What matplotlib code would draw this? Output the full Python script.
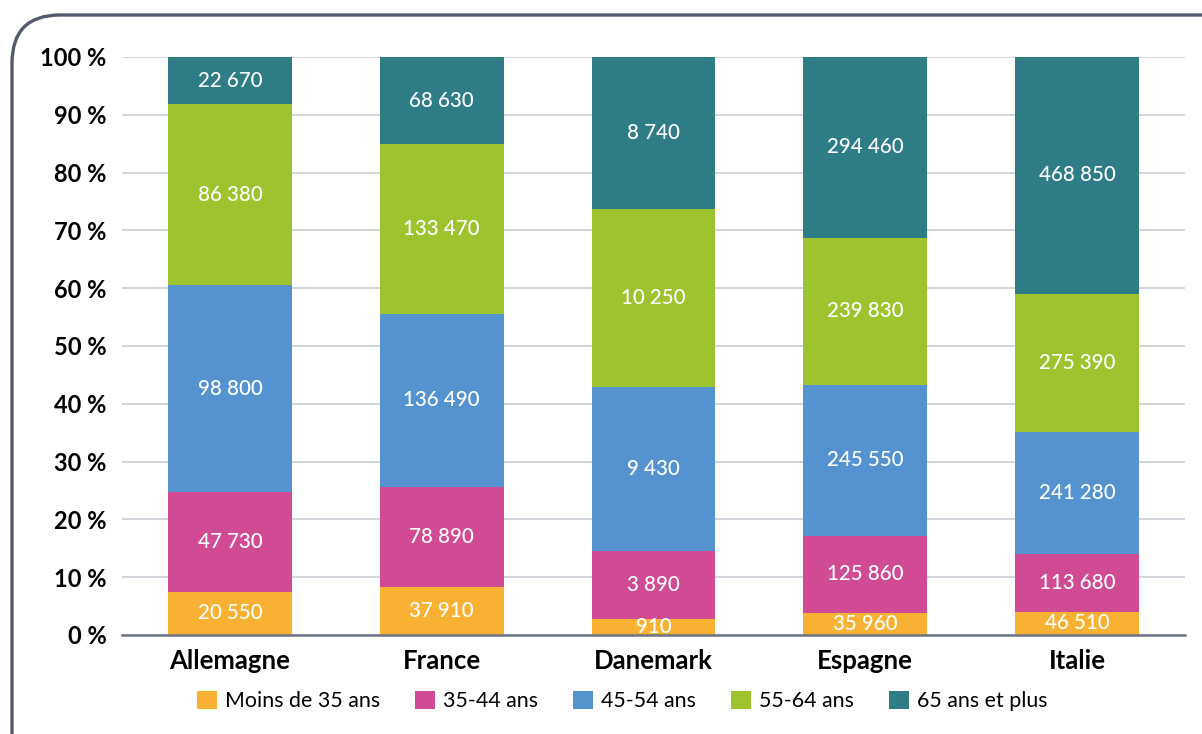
import matplotlib.pyplot as plt
import numpy as np
from matplotlib.patches import FancyBboxPatch

plt.rcParams['font.family'] = ['Lato', 'DejaVu Sans']

countries = ["Allemagne", "France", "Danemark", "Espagne", "Italie"]
groups = ["Moins de 35 ans", "35-44 ans", "45-54 ans", "55-64 ans", "65 ans et plus"]
moins_35 = [20550, 37910, 910, 35960, 46510]
ans_35_44 = [47730, 78890, 3890, 125860, 113680]
ans_45_54 = [98800, 136490, 9430, 245550, 241280]
ans_55_64 = [86380, 133470, 10250, 239830, 275390]
ans_65_plus = [22670, 68630, 8740, 294460, 468850]
colors = ["#f8b133", "#d04b94", "#5592d0", "#9dc32f", "#2e7c85"]

series = [moins_35, ans_35_44, ans_45_54, ans_55_64, ans_65_plus]
values = np.array(series, dtype=float)
totals = values.sum(axis=0)
pct = values / totals * 100

fig = plt.figure(figsize=(12.02, 7.34), dpi=100)
ax = fig.add_axes([122 / 1202, 1 - 635 / 734, (1185 - 122) / 1202, (635 - 57) / 734])

# rounded frame, cut off at right and bottom
frame = FancyBboxPatch((12 / 1202, -0.1), 1.1, 1 - 15 / 734 + 0.1,
                       boxstyle="round,pad=0,rounding_size=0.04",
                       transform=fig.transFigure, fill=False,
                       edgecolor="#525a6b", linewidth=2.4,
                       mutation_aspect=1202 / 734)
fig.patches.append(frame)

x = np.arange(len(countries))
bottom = np.zeros(len(countries))
for i, name in enumerate(groups):
    ax.bar(x, pct[i], 0.585, bottom=bottom, color=colors[i], label=name, zorder=2)
    for j in range(len(countries)):
        label = f"{int(values[i, j]):,}".replace(",", " ")
        ax.text(x[j], bottom[j] + pct[i, j] / 2, label, ha="center", va="center",
                color="white", fontsize=14.8, fontweight="medium", zorder=3)
    bottom += pct[i]

ax.set_xlim(-0.51, len(countries) - 0.49)
ax.set_ylim(0, 100)
ax.set_yticks(range(0, 101, 10))
ax.set_yticklabels([f"{t} %" for t in range(0, 101, 10)], fontsize=17, fontweight="bold")
ax.set_xticks(x)
ax.set_xticklabels(countries, fontsize=18.5, fontweight="bold")
ax.tick_params(length=0)
ax.tick_params(axis="y", pad=11)
ax.tick_params(axis="x", pad=10)
ax.grid(axis="y", color="#c9cfd8", linewidth=1.2, zorder=0)
for s in ["top", "right", "left"]:
    ax.spines[s].set_visible(False)
ax.spines["bottom"].set_color("#6b7384")
ax.spines["bottom"].set_linewidth(1.8)
ax.spines["bottom"].set_zorder(4)

fig.legend(loc="center", bbox_to_anchor=(622 / 1202, 1 - 701 / 734), ncol=5,
           frameon=False, fontsize=15.4, handlelength=0.95, handleheight=0.95,
           handletextpad=0.35, columnspacing=1.65)

fig.savefig("out.png", dpi=100)
